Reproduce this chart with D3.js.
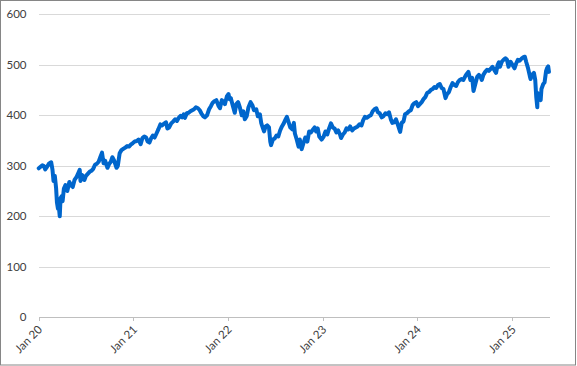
<!DOCTYPE html>
<html>
<head>
<meta charset="utf-8">
<script src="https://cdn.jsdelivr.net/npm/d3@7"></script>
<style>
  body { margin: 0; background: #fff; }
</style>
</head>
<body>
<div id="chart"></div>
<script>
// price series (roughly weekly)
var dates = [
  '2020-01-02','2020-01-09','2020-01-16','2020-01-21','2020-01-27','2020-02-03','2020-02-10','2020-02-19','2020-02-24','2020-02-28',
  '2020-03-04','2020-03-09','2020-03-12','2020-03-16','2020-03-19','2020-03-23','2020-03-26','2020-03-31','2020-04-03','2020-04-08',
  '2020-04-14','2020-04-21','2020-04-29','2020-05-05','2020-05-12','2020-05-19','2020-05-27','2020-06-03','2020-06-08','2020-06-11',
  '2020-06-17','2020-06-26','2020-07-02','2020-07-09','2020-07-16','2020-07-23','2020-07-30','2020-08-06','2020-08-13','2020-08-20',
  '2020-08-27','2020-09-02','2020-09-08','2020-09-14','2020-09-23','2020-09-30','2020-10-06','2020-10-12','2020-10-19','2020-10-28',
  '2020-11-02','2020-11-09','2020-11-16','2020-11-24','2020-12-01','2020-12-08','2020-12-15','2020-12-22','2020-12-30',
  '2021-01-06','2021-01-14','2021-01-21','2021-01-29','2021-02-05','2021-02-12','2021-02-19','2021-02-25','2021-03-04','2021-03-10',
  '2021-03-17','2021-03-24','2021-04-01','2021-04-08','2021-04-15','2021-04-22','2021-04-30','2021-05-07','2021-05-12','2021-05-19',
  '2021-05-27','2021-06-04','2021-06-11','2021-06-18','2021-06-25','2021-07-02','2021-07-08','2021-07-14','2021-07-19','2021-07-26',
  '2021-08-02','2021-08-09','2021-08-16','2021-08-23','2021-08-30','2021-09-07','2021-09-14','2021-09-20','2021-09-28','2021-10-04',
  '2021-10-12','2021-10-20','2021-10-27','2021-11-03','2021-11-10','2021-11-17','2021-11-26','2021-12-01','2021-12-08','2021-12-15',
  '2021-12-20','2021-12-28',
  '2022-01-03','2022-01-07','2022-01-12','2022-01-19','2022-01-27','2022-02-02','2022-02-09','2022-02-16','2022-02-23','2022-03-01',
  '2022-03-07','2022-03-14','2022-03-21','2022-03-29','2022-04-05','2022-04-11','2022-04-20','2022-04-26','2022-05-04','2022-05-09',
  '2022-05-12','2022-05-20','2022-05-26','2022-06-01','2022-06-08','2022-06-13','2022-06-16','2022-06-23','2022-06-30','2022-07-07',
  '2022-07-14','2022-07-21','2022-07-28','2022-08-04','2022-08-11','2022-08-16','2022-08-23','2022-08-29','2022-09-06','2022-09-12',
  '2022-09-16','2022-09-23','2022-09-30','2022-10-05','2022-10-12','2022-10-19','2022-10-26','2022-11-03','2022-11-10','2022-11-17',
  '2022-11-25','2022-12-01','2022-12-07','2022-12-13','2022-12-19','2022-12-28',
  '2023-01-05','2023-01-12','2023-01-19','2023-01-26','2023-02-02','2023-02-09','2023-02-16','2023-02-23','2023-03-02','2023-03-09',
  '2023-03-13','2023-03-20','2023-03-27','2023-04-03','2023-04-10','2023-04-17','2023-04-25','2023-05-02','2023-05-09','2023-05-16',
  '2023-05-23','2023-05-31','2023-06-06','2023-06-13','2023-06-20','2023-06-28','2023-07-06','2023-07-13','2023-07-20','2023-07-27',
  '2023-08-02','2023-08-09','2023-08-17','2023-08-23','2023-08-31','2023-09-07','2023-09-14','2023-09-21','2023-09-27','2023-10-04',
  '2023-10-11','2023-10-19','2023-10-27','2023-11-02','2023-11-09','2023-11-15','2023-11-22','2023-11-30','2023-12-07','2023-12-14',
  '2023-12-21','2023-12-28',
  '2024-01-04','2024-01-11','2024-01-18','2024-01-25','2024-02-01','2024-02-08','2024-02-15','2024-02-22','2024-02-29','2024-03-07',
  '2024-03-14','2024-03-21','2024-03-28','2024-04-04','2024-04-11','2024-04-19','2024-04-25','2024-05-02','2024-05-09','2024-05-16',
  '2024-05-23','2024-05-30','2024-06-06','2024-06-13','2024-06-20','2024-06-27','2024-07-05','2024-07-10','2024-07-16','2024-07-24',
  '2024-07-31','2024-08-05','2024-08-12','2024-08-19','2024-08-26','2024-09-03','2024-09-06','2024-09-12','2024-09-19','2024-09-26',
  '2024-10-03','2024-10-10','2024-10-17','2024-10-24','2024-10-31','2024-11-06','2024-11-11','2024-11-15','2024-11-22','2024-11-29',
  '2024-12-06','2024-12-12','2024-12-18','2024-12-26',
  '2025-01-02','2025-01-10','2025-01-16','2025-01-23','2025-01-30','2025-02-06','2025-02-14','2025-02-19','2025-02-24','2025-03-03',
  '2025-03-10','2025-03-13','2025-03-19','2025-03-26','2025-03-31','2025-04-04','2025-04-08','2025-04-09','2025-04-14','2025-04-21',
  '2025-04-24','2025-05-01','2025-05-06','2025-05-12','2025-05-16','2025-05-20','2025-05-23'
];

var values = [
  295,298,301,300,293,298,304,307,292,270,
  280,255,228,215,222,200,236,240,230,255,
  262,250,268,262,258,272,278,286,292,270,
  282,272,280,284,288,290,294,302,304,308,
  318,326,305,310,296,304,308,317,310,296,
  300,325,331,334,336,339,338,342,345,
  348,349,352,343,355,358,356,348,346,354,
  360,356,365,373,382,380,384,386,374,376,
  384,388,392,389,395,399,396,402,395,404,
  405,408,410,412,416,414,410,404,398,396,
  400,412,418,425,428,430,418,414,430,426,
  422,438,
  442,432,434,420,405,422,426,415,400,408,
  392,398,416,426,420,410,412,398,402,385,
  380,368,378,380,376,348,341,352,354,360,
  358,370,378,384,392,397,386,376,372,385,
  364,352,338,352,333,345,356,348,368,366,
  372,376,368,374,358,352,
  358,368,362,374,384,376,374,366,370,362,
  355,362,366,374,372,378,370,374,376,378,
  382,380,390,397,395,398,400,408,412,414,
  406,404,396,398,404,402,406,392,385,386,
  392,380,367,385,388,402,404,408,410,420,
  424,426,
  418,422,426,432,436,444,446,450,452,456,
  454,460,462,454,452,434,442,446,456,464,
  460,458,466,470,472,470,478,482,486,470,
  474,448,462,476,480,474,470,480,486,490,
  488,492,496,490,484,500,505,496,506,510,
  513,510,496,506,
  500,493,502,510,508,512,515,516,506,494,
  478,472,480,484,470,436,416,444,440,430,
  452,462,465,488,494,497,486
];

var yTicks = [0, 100, 200, 300, 400, 500, 600];
var xTicks = ['2020-01-01','2021-01-01','2022-01-01','2023-01-01','2024-01-01','2025-01-01'];

var width = 577,
    height = 366;

var plotLeft = 38.5,
    plotRight = 550,
    plotTop = 14.3,
    plotBottom = 317.3;

var lineColor = '#0066cc',
    gridColor = '#d9d9d9',
    axisColor = '#bfbfbf',
    textColor = '#404040',
    borderColor = '#868686';

var fontFamily = 'Lato, "Open Sans", sans-serif',
    fontSize = '11.5px';

var parse = d3.timeParse('%Y-%m-%d');
var data = dates.map(function(d, i) { return { date: parse(d), value: values[i] }; });

var x = d3.scaleTime()
  .domain([parse('2020-01-01'), parse('2025-05-27')])
  .range([plotLeft, plotRight]);

var y = d3.scaleLinear()
  .domain([0, 600])
  .range([plotBottom, plotTop]);

var svg = d3.select('#chart')
  .append('svg')
  .attr('width', width)
  .attr('height', height);

// chart border
svg.append('rect')
  .attr('x', 0.5)
  .attr('y', 0.5)
  .attr('width', width - 2)
  .attr('height', height - 1.5)
  .style('fill', '#fff')
  .style('stroke', borderColor);

// horizontal gridlines + y labels
var yAxis = svg.append('g')
  .attr('transform', 'translate(' + plotLeft + ',0)')
  .call(d3.axisLeft(y).tickValues(yTicks).tickSize(-(plotRight - plotLeft)).tickPadding(12));

yAxis.select('.domain').remove();
yAxis.selectAll('.tick line')
  .style('stroke', function(d) { return d === 0 ? axisColor : gridColor; })
  .style('shape-rendering', 'crispEdges');
yAxis.selectAll('.tick text')
  .attr('font-family', fontFamily)
  .attr('font-size', fontSize)
  .attr('fill', textColor);

// bottom axis with date ticks
var xAxis = svg.append('g')
  .attr('transform', 'translate(0,' + plotBottom + ')')
  .call(d3.axisBottom(x)
    .tickValues(xTicks.map(parse))
    .tickSize(4)
    .tickFormat(d3.timeFormat('Jan %y')));

xAxis.select('.domain').remove();
xAxis.selectAll('.tick line')
  .style('stroke', axisColor)
  .style('shape-rendering', 'crispEdges');
xAxis.selectAll('.tick text')
  .attr('font-family', fontFamily)
  .attr('font-size', fontSize)
  .attr('fill', textColor)
  .attr('text-anchor', 'end')
  .attr('dy', null)
  .attr('y', 0)
  .attr('transform', 'translate(4,13) rotate(-45)');

// the price line
var line = d3.line()
  .x(function(d) { return x(d.date); })
  .y(function(d) { return y(d.value); });

svg.append('path')
  .datum(data)
  .attr('d', line)
  .style('fill', 'none')
  .style('stroke', lineColor)
  .style('stroke-width', 4)
  .style('stroke-linejoin', 'round')
  .style('stroke-linecap', 'round');
</script>
</body>
</html>
